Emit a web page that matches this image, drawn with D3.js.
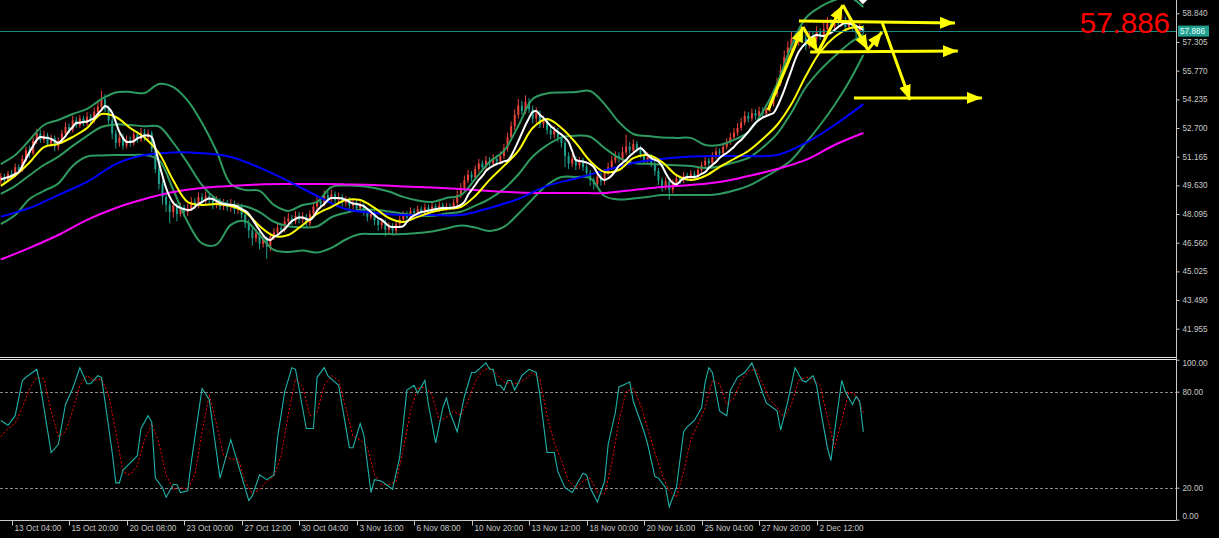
<!DOCTYPE html>
<html><head><meta charset="utf-8">
<script src="https://cdn.jsdelivr.net/npm/d3@7"></script>
<style>html,body{margin:0;padding:0;background:#000;overflow:hidden}text{font-family:"Liberation Sans",Arial,sans-serif}</style>
</head><body><svg id="c" width="1219" height="538"></svg>
<script>
// ---------- DATA ----------
const timeLabels=["13 Oct 04:00","15 Oct 20:00","20 Oct 08:00","23 Oct 00:00","27 Oct 12:00","30 Oct 04:00","3 Nov 16:00","6 Nov 08:00","10 Nov 20:00","13 Nov 12:00","18 Nov 00:00","20 Nov 16:00","25 Nov 04:00","27 Nov 20:00","2 Dec 12:00"];
const timeTickBars=[3,19,35,51,67,83,99,115,131,147,163,179,195,211,227];
const priceTicks=[58.840,57.305,55.770,54.235,52.700,51.165,49.630,48.095,46.560,45.025,43.490,41.955];
const stochTicks=[100,80,20,0];
const stochLevels=[80,20];
const lastPrice=57.886;

const opens=[49.85,50.10,49.90,50.25,50.15,50.60,50.45,51.05,51.50,51.35,
52.00,52.40,52.05,52.30,51.85,52.15,51.70,52.00,52.40,52.75,
52.60,53.10,52.85,53.20,52.95,53.30,53.10,53.55,53.85,54.25,
53.70,53.10,52.40,51.90,52.20,51.75,52.05,51.90,52.35,52.10,
52.45,52.20,52.40,51.60,50.50,49.70,49.00,48.60,48.20,48.55,
48.10,48.45,48.20,48.40,48.75,48.55,49.00,48.80,49.05,48.85,
48.60,48.80,48.50,48.70,48.45,48.65,48.35,48.50,48.05,47.60,
47.20,46.80,47.05,46.50,46.75,46.35,46.90,47.10,47.35,47.25,
47.70,47.85,47.70,48.00,47.80,47.95,47.60,48.10,48.50,48.80,
48.65,49.10,48.90,49.15,48.85,49.00,48.70,48.85,48.55,48.70,
48.40,48.55,48.20,47.95,48.10,47.75,47.50,47.65,47.25,47.45,
47.20,47.55,47.80,48.05,47.90,48.25,48.15,48.35,48.20,48.45,
48.30,48.50,48.35,48.55,48.40,48.50,48.45,48.70,49.10,49.50,
49.90,50.20,50.05,50.50,50.80,50.60,50.95,50.80,51.05,50.90,
51.20,51.60,52.20,52.80,53.40,53.90,53.60,54.10,53.70,53.20,
53.50,52.90,53.10,52.60,52.35,52.55,52.20,51.90,51.20,50.80,
51.05,50.70,50.95,50.60,50.30,49.90,49.70,50.10,49.85,50.30,
50.60,50.95,51.20,51.05,51.40,51.70,51.50,51.85,51.60,51.30,
51.00,51.15,50.80,50.40,49.90,49.60,49.85,49.40,49.75,50.00,
49.90,50.15,50.00,50.25,50.10,50.45,50.70,50.95,50.80,51.20,
51.45,51.35,51.70,51.95,52.20,52.45,52.70,53.00,53.35,53.20,
53.50,53.35,53.60,53.45,53.75,54.00,54.50,55.10,55.80,56.50,
57.00,57.50,57.30,57.70,57.50,57.10,57.60,57.45,57.85,57.60,
58.00,58.30,58.15,58.55,58.30,58.45,58.10,58.35,58.05,57.80,
58.05];
const closes=[50.10,49.90,50.25,50.15,50.60,50.45,51.05,51.50,51.35,52.00,
52.40,52.05,52.30,51.85,52.15,51.70,52.00,52.40,52.75,52.60,
53.10,52.85,53.20,52.95,53.30,53.10,53.55,53.85,54.25,53.70,
53.10,52.40,51.90,52.20,51.75,52.05,51.90,52.35,52.10,52.45,
52.20,52.40,51.60,50.50,49.70,49.00,48.60,48.20,48.55,48.10,
48.45,48.20,48.40,48.75,48.55,49.00,48.80,49.05,48.85,48.60,
48.80,48.50,48.70,48.45,48.65,48.35,48.50,48.05,47.60,47.20,
46.80,47.05,46.50,46.75,46.35,46.90,47.10,47.35,47.25,47.70,
47.85,47.70,48.00,47.80,47.95,47.60,48.10,48.50,48.80,48.65,
49.10,48.90,49.15,48.85,49.00,48.70,48.85,48.55,48.70,48.40,
48.55,48.20,47.95,48.10,47.75,47.50,47.65,47.25,47.45,47.20,
47.55,47.80,48.05,47.90,48.25,48.15,48.35,48.20,48.45,48.30,
48.50,48.35,48.55,48.40,48.50,48.45,48.70,49.10,49.50,49.90,
50.20,50.05,50.50,50.80,50.60,50.95,50.80,51.05,50.90,51.20,
51.60,52.20,52.80,53.40,53.90,53.60,54.10,53.70,53.20,53.50,
52.90,53.10,52.60,52.35,52.55,52.20,51.90,51.20,50.80,51.05,
50.70,50.95,50.60,50.30,49.90,49.70,50.10,49.85,50.30,50.60,
50.95,51.20,51.05,51.40,51.70,51.50,51.85,51.60,51.30,51.00,
51.15,50.80,50.40,49.90,49.60,49.85,49.40,49.75,50.00,49.90,
50.15,50.00,50.25,50.10,50.45,50.70,50.95,50.80,51.20,51.45,
51.35,51.70,51.95,52.20,52.45,52.70,53.00,53.35,53.20,53.50,
53.35,53.60,53.45,53.75,54.00,54.50,55.10,55.80,56.50,57.00,
57.50,57.30,57.70,57.50,57.10,57.60,57.45,57.85,57.60,58.00,
58.30,58.15,58.55,58.30,58.45,58.10,58.35,58.05,57.80,58.05,
57.886];
const highs=[50.30,50.25,50.40,50.45,50.80,50.75,51.25,51.70,51.75,52.20,
52.65,52.60,52.55,52.45,52.35,52.30,52.20,52.60,53.00,52.95,
53.35,53.30,53.40,53.35,53.55,53.45,53.80,54.10,54.70,54.50,
53.90,53.30,52.60,52.45,52.40,52.30,52.25,52.55,52.55,52.70,
52.65,52.60,52.55,51.75,50.70,49.90,49.20,48.80,48.80,48.70,
48.70,48.60,48.65,49.00,48.95,49.25,49.20,49.30,49.20,49.00,
49.05,48.95,48.90,48.85,48.90,48.80,48.70,48.65,48.20,47.80,
47.35,47.30,47.20,47.00,46.90,47.10,47.35,47.60,47.55,47.95,
48.15,48.05,48.25,48.20,48.20,48.10,48.30,48.75,49.05,49.00,
49.35,49.30,49.40,49.30,49.25,49.15,49.05,49.00,48.90,48.85,
48.75,48.70,48.35,48.30,48.25,47.90,47.85,47.80,47.65,47.60,
47.75,48.00,48.25,48.25,48.45,48.40,48.55,48.50,48.65,48.60,
48.75,48.65,48.75,48.70,48.70,48.65,48.90,49.35,49.75,50.15,
50.45,50.40,50.70,51.05,50.95,51.20,51.15,51.30,51.25,51.45,
51.85,52.45,53.05,53.70,54.25,54.15,54.45,54.30,53.90,53.80,
53.65,53.35,53.25,52.80,52.80,52.70,52.35,52.05,51.40,51.30,
51.20,51.15,51.10,50.75,50.45,50.05,50.30,50.30,50.50,50.85,
51.20,51.45,51.40,51.70,52.35,51.95,52.10,52.00,51.75,51.45,
51.40,51.30,50.95,50.55,50.05,50.05,50.00,49.95,50.20,50.15,
50.35,50.30,50.45,50.40,50.65,50.90,51.15,51.10,51.40,51.65,
51.60,51.90,52.15,52.45,52.70,52.95,53.25,53.60,53.55,53.75,
53.70,53.85,53.80,54.00,54.30,54.80,55.40,56.10,56.85,57.35,
57.85,57.80,58.00,57.95,57.70,57.85,57.85,58.15,58.05,58.35,
58.65,58.55,58.95,58.90,58.80,58.65,58.60,58.50,58.25,58.30,
58.20];
const lows=[49.70,49.75,49.80,50.00,50.05,50.30,50.35,50.90,51.10,51.25,
51.85,51.90,51.90,51.70,51.70,51.45,51.50,51.85,52.30,52.40,
52.45,52.70,52.70,52.80,52.80,52.95,52.95,53.40,53.70,53.55,
52.90,52.10,51.60,51.70,51.55,51.60,51.70,51.75,51.90,51.95,
52.00,52.00,51.40,50.30,49.40,48.60,48.20,47.60,47.90,47.70,
47.95,47.95,48.00,48.25,48.35,48.40,48.60,48.65,48.60,48.35,
48.40,48.30,48.30,48.25,48.20,48.10,48.10,47.85,47.35,46.80,
46.40,46.60,46.20,46.30,45.70,46.10,46.70,46.95,47.05,47.10,
47.50,47.50,47.55,47.60,47.60,47.40,47.45,47.95,48.35,48.45,
48.50,48.70,48.75,48.65,48.65,48.50,48.50,48.35,48.35,48.20,
48.20,48.00,47.70,47.80,47.50,47.20,47.30,46.90,47.05,46.95,
47.00,47.40,47.65,47.70,47.75,48.00,48.00,48.05,48.05,48.10,
48.15,48.20,48.20,48.25,48.25,48.30,48.30,48.55,48.95,49.35,
49.75,49.85,49.90,50.35,50.40,50.45,50.60,50.65,50.70,50.75,
51.05,51.45,52.05,52.60,53.20,53.40,53.45,53.50,52.95,53.00,
52.70,52.70,52.35,52.10,52.15,51.95,51.65,50.60,50.50,50.60,
50.45,50.50,50.40,50.05,49.60,49.40,49.50,49.60,49.65,50.15,
50.45,50.80,50.85,50.90,51.25,51.30,51.35,51.40,51.10,50.80,
50.80,50.60,50.15,49.65,49.30,49.40,48.85,49.20,49.55,49.70,
49.75,49.85,49.85,49.95,49.95,50.30,50.55,50.60,50.65,51.05,
51.15,51.20,51.55,51.80,52.05,52.30,52.55,52.85,53.00,53.05,
53.15,53.20,53.25,53.30,53.55,53.85,54.35,54.95,55.65,56.30,
56.80,57.05,57.10,57.25,56.85,56.95,57.20,57.30,57.40,57.45,
57.85,57.95,58.00,58.10,58.15,57.90,57.95,57.85,57.55,57.65,
57.75];
// fast MA (white), one value per bar
const whiteMA=[49.95,50.01,50.06,50.13,50.24,50.35,50.67,51.04,51.42,51.74,
52.06,52.22,52.19,52.17,52.11,52.00,51.90,52.06,52.27,52.54,
52.75,52.97,52.99,53.02,53.05,53.13,53.24,53.45,53.66,53.88,
53.77,53.50,53.02,52.49,52.17,51.95,51.95,52.00,52.14,52.22,
52.30,52.30,52.22,51.63,50.83,50.13,49.49,49.01,48.69,48.52,
48.42,48.36,48.31,48.34,48.47,48.63,48.74,48.85,48.93,48.90,
48.79,48.69,48.63,48.61,48.58,48.55,48.47,48.36,48.26,48.10,
47.83,47.51,47.24,46.97,46.76,46.70,46.87,46.97,47.13,47.29,
47.51,47.72,47.83,47.91,47.91,47.83,47.78,47.94,48.26,48.47,
48.63,48.85,48.95,48.95,48.95,48.93,48.85,48.74,48.66,48.63,
48.58,48.52,48.36,48.20,48.04,47.88,47.78,47.61,47.45,47.40,
47.40,47.40,47.45,47.67,47.88,48.02,48.12,48.20,48.23,48.28,
48.31,48.36,48.39,48.42,48.42,48.42,48.44,48.50,48.58,48.74,
49.11,49.38,49.65,49.92,50.13,50.40,50.56,50.67,50.77,50.83,
50.91,50.96,51.20,51.58,52.00,52.43,52.86,53.24,53.56,53.61,
53.40,53.24,53.02,52.81,52.65,52.49,52.35,52.17,51.95,51.47,
50.99,50.93,50.91,50.85,50.77,50.61,50.29,50.02,49.92,50.00,
50.16,50.40,50.67,50.83,50.99,51.20,51.36,51.52,51.63,51.47,
51.25,51.09,50.99,50.91,50.67,50.29,49.97,49.76,49.68,49.84,
50.00,50.08,50.08,50.08,50.13,50.24,50.34,50.56,50.72,50.88,
51.09,51.25,51.36,51.52,51.68,51.90,52.06,52.27,52.49,52.75,
52.97,53.13,53.26,53.34,53.42,53.50,53.82,54.25,54.73,55.27,
55.80,56.34,56.77,57.04,57.25,57.46,57.60,57.68,57.65,57.63,
57.71,57.79,57.95,58.11,58.24,58.32,58.29,58.24,58.16,58.05,
57.95];
// slower MA (yellow) and Bollinger bands, every 4th bar
const yellowMA=[49.60,50.15,50.85,51.68,51.85,52.22,52.70,53.45,53.29,52.70,
52.19,51.36,49.89,48.74,48.58,48.63,48.52,48.20,47.45,46.92,
46.97,47.51,48.10,48.47,48.84,48.84,48.42,47.88,47.67,47.94,
48.20,48.36,48.47,49.06,49.92,50.67,51.47,52.70,53.18,52.70,
51.90,50.93,50.34,50.45,51.09,51.25,50.88,50.18,49.92,50.13,
50.61,51.04,51.47,52.11,52.86,53.98,55.48,56.77,57.57,58.03,
58.11];
const bbUpper=[50.77,51.25,52.06,52.86,53.13,53.45,53.72,54.25,54.60,54.63,
54.57,55.06,54.89,54.17,52.97,51.47,49.70,49.38,49.33,48.58,
48.26,48.58,48.74,49.54,49.62,49.60,49.49,49.30,49.01,48.82,
48.74,48.95,49.11,49.97,50.88,51.47,52.81,54.25,54.55,54.60,
54.63,54.68,53.98,53.02,52.38,52.27,52.19,52.17,52.17,51.79,
51.79,52.06,52.49,53.56,55.06,57.09,58.59,59.18,59.55,59.71,
59.18];
const bbMiddle=[49.17,49.60,50.17,50.72,51.16,51.74,52.28,52.75,52.89,52.86,
52.79,52.78,51.91,50.82,49.64,48.90,48.59,48.51,48.20,47.68,
47.44,47.38,47.43,47.92,48.16,48.32,48.32,48.23,48.11,48.02,
48.00,48.12,48.22,48.54,48.91,49.44,50.21,51.17,51.78,52.20,
52.29,52.23,51.63,51.10,50.82,50.78,50.74,50.70,50.66,50.56,
50.64,50.85,51.10,51.65,52.38,53.53,54.88,55.80,56.54,57.21,
57.71];
const bbLower=[47.56,48.04,48.90,49.33,49.73,50.67,51.17,51.23,51.25,51.25,
51.25,50.99,49.38,47.67,46.52,46.46,47.51,47.72,46.97,46.17,
46.06,46.14,46.03,46.28,46.73,47.02,47.02,47.02,47.02,47.08,
47.16,47.32,47.48,47.37,47.19,47.40,48.10,48.90,49.65,50.08,
50.08,50.02,49.06,48.87,48.93,49.01,49.11,49.11,49.11,49.11,
49.17,49.35,49.60,50.00,50.45,50.99,51.90,52.86,53.93,55.16,
56.61];
// long MAs, every 8th bar
const blueMA=[47.95,48.42,49.11,49.81,50.77,51.25,51.39,51.35,51.15,50.58,49.86,49.06,48.36,48.15,48.04,48.04,48.04,48.42,48.90,49.60,50.00,50.42,50.83,51.04,51.17,51.20,51.20,51.25,51.90,52.86,53.98];
const magentaMA=[45.66,46.28,46.97,47.78,48.42,48.90,49.27,49.49,49.59,49.68,49.70,49.70,49.68,49.65,49.57,49.51,49.43,49.33,49.25,49.22,49.22,49.22,49.38,49.54,49.65,49.81,50.13,50.50,50.99,51.79,52.43];
// stochastic %K (sampled bars) and %D (every 2nd bar)
const kBars=[0,2,4,6,7,10,11,14,16,18,20,22,24,25,27,28,29,31,32,33,34,38,39,41,42,43,45,46,48,49,50,52,53,56,58,61,62,64,69,70,72,74,76,77,79,81,82,83,85,87,88,90,91,93,94,97,98,100,101,103,104,106,109,111,113,115,116,118,119,121,123,124,125,127,129,131,132,133,135,136,137,138,139,140,141,142,143,145,147,149,150,152,154,155,157,159,162,163,164,166,168,169,171,172,174,175,176,179,180,182,183,185,186,188,190,191,193,195,196,197,198,200,202,203,205,207,209,210,213,216,217,219,221,223,224,226,227,228,230,231,232,234,235,237,238,239,240];
const kVals=[62,59,65,87,89,94,84,42,47,72,82,95,85,85,90,89,74,42,23,23,31,40,57,65,61,26,20,14,22,22,17,18,36,82,75,26,34,50,12,15,28,25,28,51,80,95,94,82,57,57,89,95,90,86,84,45,45,60,53,17,25,24,19,39,81,84,79,87,72,48,70,76,67,55,77,92,92,94,98,94,94,84,84,81,87,87,81,90,94,92,78,42,42,30,20,17,29,28,20,11,24,47,67,83,85,86,74,55,47,27,26,20,8,20,55,58,62,70,86,95,92,68,65,81,89,92,98,92,73,68,56,74,95,87,86,90,84,70,45,37,55,87,80,72,77,74,55];
const dVals=[52,57,60,70,82,89,88,68,52,55,68,84,90,87,88,78,55,30,28,34,50,60,48,28,19,20,19,28,55,78,60,40,38,38,24,16,19,24,27,40,66,88,83,65,67,84,90,87,70,52,50,45,28,22,22,24,44,68,82,83,78,62,64,68,65,74,86,93,95,91,86,85,85,88,92,88,65,48,37,24,20,24,26,17,16,35,62,80,82,72,57,42,28,18,14,30,50,60,70,87,85,72,76,87,93,94,85,75,70,64,72,87,89,88,84,64,45,62,80,78,67];
// hand-drawn yellow arrows: [bar, price] start/end
const arrowStartBars=[222.1,225.2,237.4,213.5,223.2,227.4,234.3,241.3,245.2];
const arrowStartPrices=[58.43,56.77,54.31,53.66,58.11,56.77,59.28,56.88,58.37];
const arrowEndBars=[265.5,266.3,273.0,223.2,227.4,234.3,241.3,245.2,253.0];
const arrowEndPrices=[58.32,56.82,54.31,58.11,56.77,59.28,56.88,57.84,54.20];
const markerBar=239.9, markerPrice=59.65;

// ---------- DRAW ----------
const W=1219,H=538,AX=1176,XB=520;
const svg=d3.select('#c');
svg.append('rect').attr('width',W).attr('height',H).attr('fill','#000');
const defs=svg.append('defs');
defs.append('clipPath').attr('id','ct').append('rect').attr('x',0).attr('y',0).attr('width',AX).attr('height',357);
defs.append('clipPath').attr('id','cb').append('rect').attr('x',0).attr('y',361).attr('width',AX).attr('height',158);
defs.append('marker').attr('id','ah').attr('markerUnits','userSpaceOnUse').attr('markerWidth',16).attr('markerHeight',12)
  .attr('refX',15).attr('refY',6).attr('orient','auto')
  .append('path').attr('d','M0,0 L15,6 L0,12 Z').attr('fill','#ffff00');

const x=d3.scaleLinear().domain([0,240]).range([0.8,863.3]);
const y=d3.scaleLinear().domain([41.955,58.84]).range([328.7,13.3]);
const ys=d3.scaleLinear().domain([0,100]).range([519.7,359.7]);

const gT=svg.append('g').attr('clip-path','url(#ct)');
const UP='#e8443a', DN='#1f9e8c';
const bars=d3.range(closes.length);
gT.append('g').selectAll('line').data(bars).join('line')
  .attr('x1',i=>x(i)).attr('x2',i=>x(i))
  .attr('y1',i=>y(highs[i])).attr('y2',i=>y(lows[i]))
  .attr('stroke',i=>closes[i]>=opens[i]?UP:DN).attr('stroke-width',1);
gT.append('g').selectAll('rect').data(bars).join('rect')
  .attr('x',i=>x(i)-1).attr('width',2)
  .attr('y',i=>y(Math.max(opens[i],closes[i])))
  .attr('height',i=>Math.max(1,Math.abs(y(opens[i])-y(closes[i]))))
  .attr('fill',i=>closes[i]>=opens[i]?UP:DN);

function drawLine(g,vals,step,color,w,curve){
  const ln=d3.line().x((d,k)=>x(k*step)).y(d=>y(d)).curve(curve||d3.curveMonotoneX);
  g.append('path').attr('d',ln(vals)).attr('fill','none').attr('stroke',color).attr('stroke-width',w).attr('stroke-linejoin','round');
}
const GREEN='#2e9a60';
drawLine(gT,bbUpper,4,GREEN,2,d3.curveCatmullRom);
drawLine(gT,bbMiddle,4,GREEN,2,d3.curveCatmullRom);
drawLine(gT,bbLower,4,GREEN,2,d3.curveCatmullRom);
drawLine(gT,magentaMA,8,'#ff00ff',2,d3.curveCatmullRom);
drawLine(gT,blueMA,8,'#0000ff',2,d3.curveCatmullRom);
drawLine(gT,yellowMA,4,'#ffff00',2,d3.curveCatmullRom);
drawLine(gT,whiteMA,1,'#ffffff',2,d3.curveMonotoneX);

// current price line
svg.append('line').attr('x1',0).attr('x2',AX).attr('y1',Math.round(y(lastPrice))+0.5).attr('y2',Math.round(y(lastPrice))+0.5)
  .attr('stroke','#1f8a80').attr('stroke-width',1);

// arrows
const ga=svg.append('g');
ga.selectAll('line').data(d3.range(arrowStartBars.length)).join('line')
  .attr('x1',k=>x(arrowStartBars[k])).attr('y1',k=>y(arrowStartPrices[k]))
  .attr('x2',k=>x(arrowEndBars[k])).attr('y2',k=>y(arrowEndPrices[k]))
  .attr('stroke','#ffff00').attr('stroke-width',3).attr('marker-end','url(#ah)');
{
  const mx=x(markerBar), my=y(markerPrice);
  svg.append('path').attr('d',`M${mx-6},${my} L${mx},${my-6} L${mx+6},${my} L${mx},${my+6} Z`).attr('fill','#ffffff');
}

// big red price
svg.append('text').attr('x',1170).attr('y',32.7).attr('text-anchor','end').attr('fill','#ff0000')
  .style('font-size','29.5px').text(d3.format('.3f')(lastPrice));

// panel separators & frame
svg.append('line').attr('x1',0).attr('x2',AX).attr('y1',357.5).attr('y2',357.5).attr('stroke','#e6e6e6');
svg.append('line').attr('x1',0).attr('x2',AX).attr('y1',359.5).attr('y2',359.5).attr('stroke','#e6e6e6');
svg.append('line').attr('x1',AX+0.5).attr('x2',AX+0.5).attr('y1',0).attr('y2',XB).attr('stroke','#c8c8c8');
svg.append('line').attr('x1',0).attr('x2',AX+0.5).attr('y1',XB+0.5).attr('y2',XB+0.5).attr('stroke','#c8c8c8');

// price axis
const pa=svg.append('g').attr('transform',`translate(${AX+0.5},0)`)
  .call(d3.axisRight(y).tickValues(priceTicks).tickFormat(d3.format('.3f')).tickSize(3).tickPadding(3));
pa.select('.domain').remove();
pa.selectAll('line').attr('stroke','#c8c8c8');
pa.selectAll('text').attr('fill','#c8c8c8').style('font-size','8.2px');

// last price box
{
  const py=y(lastPrice);
  svg.append('rect').attr('x',1178).attr('y',py-5.5).attr('width',31).attr('height',11).attr('fill','#22a091');
  svg.append('text').attr('x',1180).attr('y',py).attr('dy','0.35em').attr('fill','#e8fffc').style('font-size','8.2px').text(d3.format('.3f')(lastPrice));
}

// stochastic panel
const gB=svg.append('g').attr('clip-path','url(#cb)');
gB.selectAll('line.lv').data(stochLevels).join('line').attr('class','lv')
  .attr('x1',0).attr('x2',AX).attr('y1',d=>Math.round(ys(d))+0.5).attr('y2',d=>Math.round(ys(d))+0.5)
  .attr('stroke','#8a8a8a').attr('stroke-dasharray','3,2');
const dLine=d3.line().x((d,k)=>x(k*2)).y(d=>ys(d));
gB.append('path').attr('d',dLine(dVals)).attr('fill','none').attr('stroke','#ff0000').attr('stroke-width',1).attr('stroke-dasharray','2,2');
const kLine=d3.line().x((d,k)=>x(kBars[k])).y(d=>ys(d));
gB.append('path').attr('d',kLine(kVals)).attr('fill','none').attr('stroke','#20b2aa').attr('stroke-width',1.1);

const sa=svg.append('g').attr('transform',`translate(${AX+0.5},0)`)
  .call(d3.axisRight(ys).tickValues(stochTicks).tickFormat(d3.format('.2f')).tickSize(3).tickPadding(3));
sa.select('.domain').remove();
sa.selectAll('line').attr('stroke','#c8c8c8');
sa.selectAll('text').attr('fill','#c8c8c8').style('font-size','8.2px')
  .attr('dy',d=>d===100?'0.75em':(d===0?'-0.2em':'0.32em'));

// time axis
const ta=svg.append('g').attr('transform',`translate(0,${XB+0.5})`);
timeTickBars.forEach((b,k)=>{
  const tx=Math.round(x(b))+0.5;
  ta.append('line').attr('x1',tx).attr('x2',tx).attr('y1',0).attr('y2',5).attr('stroke','#c8c8c8');
  ta.append('text').attr('x',tx+2).attr('y',10.5).attr('fill','#c8c8c8').style('font-size','8.2px').text(timeLabels[k]);
});
</script></body></html>
